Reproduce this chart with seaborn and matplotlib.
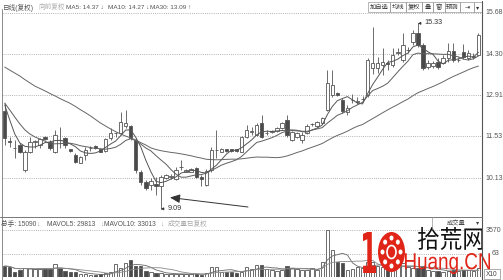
import numpy as np
import pandas as pd
import matplotlib
matplotlib.use("Agg")
import matplotlib.pyplot as plt
import seaborn as sns
from matplotlib.patches import Rectangle, Ellipse, PathPatch
from matplotlib.lines import Line2D
from matplotlib.transforms import Affine2D
from matplotlib.textpath import TextPath
from matplotlib.font_manager import FontProperties

# ---------------- data ----------------
opens = [12.39, 11.36, 11.15, 11.24, 10.40, 11.01, 11.35, 11.24, 11.51, 11.35,
         11.01, 11.41, 11.47, 11.10, 10.90, 10.65, 10.90, 11.13, 11.21, 11.10,
         11.05, 11.47, 11.63, 11.63, 11.88, 11.88, 11.41, 10.34, 10.01, 9.90,
         9.93, 9.86, 10.12, 10.17, 10.09, 10.49, 10.34, 10.34, 10.46, 10.17,
         9.90, 10.40, 11.07, 11.01, 11.10, 11.10, 11.10, 11.01, 11.52, 11.69,
         11.58, 11.97, 11.63, 11.69, 11.72, 11.80, 12.08, 11.41, 11.51, 11.41,
         11.65, 11.93, 11.88, 11.99, 12.42, 12.92, 13.00, 12.75, 12.36, 12.75,
         12.70, 12.78, 12.92, 13.82, 13.82, 13.93, 14.01, 13.93, 14.32, 14.10,
         14.44, 14.71, 15.00, 14.60, 13.87, 13.90, 14.04, 14.01, 14.16, 14.41,
         14.10, 14.36, 14.16, 14.21, 14.27]
highs = [12.65, 11.52, 11.41, 11.31, 11.07, 11.52, 11.41, 11.47, 11.53, 11.41,
         11.75, 11.86, 11.51, 11.12, 10.97, 10.87, 11.18, 11.21, 11.24, 11.12,
         11.47, 11.80, 11.69, 12.36, 12.42, 11.91, 11.47, 10.40, 10.06, 10.13,
         10.17, 10.23, 10.26, 10.26, 10.50, 10.74, 10.42, 10.46, 10.51, 10.23,
         10.43, 11.18, 11.75, 11.13, 11.12, 11.12, 11.12, 11.55, 11.91, 11.86,
         11.97, 12.25, 11.75, 11.75, 11.83, 12.00, 12.25, 11.72, 11.68, 11.68,
         11.95, 11.99, 12.05, 12.17, 13.76, 13.76, 13.03, 12.82, 12.59, 12.95,
         12.85, 12.88, 14.16, 15.21, 14.21, 14.50, 14.10, 14.50, 14.50, 15.00,
         14.55, 15.11, 15.33, 14.67, 14.10, 14.07, 14.16, 14.27, 14.67, 14.67,
         14.20, 14.64, 14.44, 14.33, 15.00]
lows = [11.24, 11.18, 10.80, 10.97, 10.34, 10.97, 11.13, 11.13, 11.42, 11.07,
        10.97, 11.13, 11.13, 11.02, 10.65, 10.63, 10.74, 11.04, 11.10, 10.99,
        11.01, 11.41, 11.52, 11.58, 11.80, 11.41, 10.29, 9.90, 9.73, 9.73,
        9.56, 9.09, 10.10, 10.10, 10.06, 10.40, 10.32, 10.32, 10.12, 9.86,
        9.86, 10.34, 10.80, 11.00, 11.02, 11.02, 11.02, 10.99, 11.47, 11.58,
        11.55, 11.47, 11.58, 11.63, 11.69, 11.77, 11.52, 11.38, 11.47, 11.30,
        11.60, 11.88, 11.85, 11.96, 12.39, 12.87, 12.90, 12.32, 12.25, 12.65,
        12.62, 12.68, 12.85, 13.62, 13.65, 13.59, 13.76, 13.87, 14.27, 14.03,
        14.32, 14.60, 14.55, 13.76, 13.80, 13.84, 13.80, 13.97, 14.04, 14.04,
        14.03, 14.13, 14.10, 14.13, 14.27]
closes = [11.47, 11.35, 11.14, 11.01, 11.01, 11.35, 11.36, 11.44, 11.44, 11.13,
          11.58, 11.40, 11.24, 11.04, 10.68, 10.85, 11.07, 11.14, 11.13, 11.01,
          11.43, 11.65, 11.64, 12.02, 11.97, 11.47, 10.40, 10.01, 9.79, 10.04,
          9.86, 10.17, 10.23, 10.18, 10.40, 10.50, 10.40, 10.43, 10.17, 10.09,
          10.38, 11.07, 11.08, 11.10, 11.04, 11.04, 11.04, 11.52, 11.75, 11.70,
          11.91, 11.52, 11.64, 11.70, 11.80, 11.97, 11.58, 11.69, 11.64, 11.58,
          11.88, 11.94, 12.02, 12.14, 13.31, 13.26, 12.92, 12.38, 12.47, 12.76,
          12.71, 12.79, 14.10, 14.00, 14.01, 14.04, 13.95, 14.27, 14.38, 14.60,
          14.45, 15.00, 14.60, 13.82, 13.99, 14.01, 13.87, 14.16, 14.41, 14.10,
          14.11, 14.21, 14.32, 14.22, 14.94]
volumes = [836, 760, 380, 532, 684, 684, 608, 608, 608, 608,
           988, 684, 418, 380, 342, 228, 228, 152, 152, 190,
           266, 380, 950, 684, 1064, 1292, 798, 798, 418, 380,
           304, 266, 228, 228, 228, 228, 228, 205, 228, 152,
           304, 783, 783, 403, 403, 403, 327, 403, 783, 585,
           912, 912, 585, 532, 479, 532, 836, 661, 585, 532,
           532, 661, 532, 1163, 3570, 2052, 1163, 1041, 532, 585,
           783, 661, 1140, 1140, 836, 783, 661, 661, 783, 1041,
           783, 661, 661, 836, 532, 456, 456, 403, 456, 532,
           456, 532, 532, 456, 661]
# moving-average values at the left edge (their history lies off-chart)
ma5_head = [12.59, 12.08, 11.61, 11.31]
ma10_head = [12.65, 12.42, 12.18, 11.95, 11.75, 11.61, 11.51, 11.44, 11.37]
ma30_head = [13.86, 13.76, 13.66, 13.56, 13.44, 13.33, 13.22, 13.14, 13.06, 12.97,
             12.89, 12.80, 12.72, 12.64, 12.54, 12.43, 12.33, 12.22, 12.10, 11.98,
             11.88, 11.78, 11.69, 11.61, 11.54, 11.48, 11.41, 11.32, 11.24]
price_ticks = [15.68, 14.30, 12.91, 11.53, 10.13]
price_tick_labels = ["15.68", "14.30", "12.91", "11.53", "10.13"]
vol_ticks = [3570, 1785]
vol_tick_labels = ["3570", "63"]
header_items = ["MA5: 14.37 ↓", "MA10: 14.27 ↓", "MA30: 13.09 ↑"]
vol_header_items = ["总手: 15090", "MAVOL5: 29813", "MAVOL10: 33013"]
buttons = ["加自选", "均线", "复权", "叠", "窗", "预测", "⇥", "▾"]

# ---------------- figure set-up ----------------
sns.set_theme(style="white")
plt.rcParams["font.family"] = ["Liberation Sans", "Noto Sans CJK SC", "DejaVu Sans"]

W, H = 503, 280
fig = plt.figure(figsize=(W / 100, H / 100), dpi=100)
fig.patch.set_facecolor("white")
T = Affine2D().scale(1 / W, -1 / H).translate(0, 1) + fig.transFigure  # pixel coords

PX0, PX1 = 3, 483
TOP, SEP, VBOT = 13, 217, 277
K = (15.68 - 10.13) / 165.0          # price per pixel
STEP, X0 = 5.04, 4.7                 # candle spacing / first candle (px)

def add_ax(yt, yb):
    a = fig.add_axes([PX0 / W, 1 - yb / H, (PX1 - PX0) / W, (yb - yt) / H])
    a.set_axis_off()
    return a

ax = add_ax(TOP, SEP)
axv = add_ax(SEP, VBOT)
xlim = ((PX0 - X0) / STEP, (PX1 - X0) / STEP)

n = len(closes)
idx = np.arange(n)
o = np.array(opens); c = np.array(closes); hi = np.array(highs); lo = np.array(lows)
up = c >= o
dark = "#4a4a4a"
edge = "#555555"

# grid lines
ax.hlines(price_ticks, xlim[0], xlim[1], colors="#9a9a9a", linestyles=(0, (1, 1.6)),
          lw=0.6, clip_on=False, zorder=0)
# wicks + bodies
ax.vlines(idx, lo, hi, color=edge, lw=0.6, zorder=2)
bottoms = np.minimum(o, c)
heights = np.maximum(np.abs(c - o), 0.012)
ax.bar(idx, heights, bottom=bottoms, width=0.68,
       color=np.where(up, "white", dark), edgecolor=edge, linewidth=0.6, zorder=3)

# moving averages
s = pd.Series(c)
ma5 = s.rolling(5).mean().to_numpy(); ma5[:4] = ma5_head
ma10 = s.rolling(10).mean().to_numpy(); ma10[:9] = ma10_head
ma30 = s.rolling(30).mean().to_numpy(); ma30[:29] = ma30_head
for m, col in [(ma5, "#555555"), (ma10, "#5e5e5e"), (ma30, "#666666")]:
    sns.lineplot(x=idx, y=m, ax=ax, color=col, linewidth=0.7, zorder=4)
ax.set_xlim(*xlim)
ax.set_ylim(15.68 - (SEP - TOP) * K, 15.68)
ax.set_axis_off()

# annotations for extreme prices
hi_i = int(np.argmax(hi)); lo_i = int(np.argmin(lo))
ap = dict(arrowstyle="-|>,head_length=0.3,head_width=0.15", color="#333", lw=0.5,
          shrinkA=0, shrinkB=0)
ax.annotate(f"{hi[hi_i]:.2f}", xy=(hi_i, hi[hi_i]), xytext=(4.5, 0.3),
            textcoords="offset points", ha="left", va="center", fontsize=5.2,
            color="#333", arrowprops=ap, annotation_clip=False)
ax.annotate(f"{lo[lo_i]:.2f}", xy=(lo_i, lo[lo_i]), xytext=(4.5, 0.3),
            textcoords="offset points", ha="left", va="center", fontsize=5.2,
            color="#333", arrowprops=ap, annotation_clip=False)
# the long pointing arrow
ax.annotate("", xy=((170 - X0) / STEP, 15.68 - (197.5 - TOP) * K),
            xytext=((248 - X0) / STEP, 15.68 - (207 - TOP) * K),
            arrowprops=dict(arrowstyle="-|>,head_length=0.5,head_width=0.22",
                            color="#333", lw=0.7, shrinkA=0, shrinkB=0))

# ---------------- volume panel ----------------
vpp = 3570 / (VBOT - 230)  # volume per pixel
axv.hlines(vol_ticks, xlim[0], xlim[1], colors="#9a9a9a", linestyles=(0, (1, 1.6)),
           lw=0.6, zorder=0)
vdf = pd.DataFrame({"i": idx, "vol": volumes, "dir": np.where(up, "up", "down")})
sns.barplot(data=vdf, x="i", y="vol", hue="dir", palette={"up": "white", "down": dark},
            native_scale=True, width=0.68, dodge=False, errorbar=None, legend=False,
            edgecolor=edge, linewidth=0.6, ax=axv, zorder=2)
vs = pd.Series(volumes, dtype=float)
sns.lineplot(x=idx, y=vs.rolling(5, min_periods=1).mean().to_numpy(), ax=axv,
             color="#666", linewidth=0.6, zorder=3)
sns.lineplot(x=idx, y=vs.rolling(10, min_periods=1).mean().to_numpy(), ax=axv,
             color="#888", linewidth=0.6, zorder=3)
axv.set_xlim(*xlim)
axv.set_ylim(0, (VBOT - SEP) * vpp)
axv.set_axis_off()

# ---------------- frame lines ----------------
def pline(x0, y0, x1, y1, col="#777", lw=0.7, **kw):
    fig.add_artist(Line2D([x0, x1], [y0, y1], transform=T, color=col, lw=lw, **kw))

pline(2.5, 9, 2.5, 280, "#8a8a8a", 0.7)
pline(482.5, 1, 482.5, 280, "#555", 0.8)
pline(0, 216.8, 482.5, 216.8, "#777", 0.7)
pline(432, 216.8, 432, 229, "#999", 0.5)

# ---------------- texts ----------------
def ptext(x, y, s, size=4.8, col="#444", ha="left", va="center", **kw):
    fig.text(x, y, s, transform=T, fontsize=size, color=col, ha=ha, va=va, **kw)

ptext(3, 7.5, "日线(复权)", col="#555")
ptext(38, 7.5, "向前复权", col="#b0b0b0")
for t, x1 in zip(header_items, [66, 108, 150]):
    ptext(x1, 7.5, t, size=4.6, col="#555")

# buttons
bx = [368, 390, 406, 422, 433, 445, 460, 474, 482]
for i, b in enumerate(buttons):
    fig.add_artist(Rectangle((bx[i], 2), bx[i + 1] - bx[i], 10, transform=T,
                             fill=False, ec="#999", lw=0.5))
    ptext((bx[i] + bx[i + 1]) / 2, 7.2, b, size=4.5, col="#333", ha="center")

# price tick labels
for p, lab in zip(price_ticks, price_tick_labels):
    ptext(485, TOP + (15.68 - p) / K, lab, size=5, col="#555")

# volume header
for t, x in zip(vol_header_items, [1, 47, 104]):
    ptext(x, 224, t, col="#555")
for x in [36, 100, 160]:
    ptext(x, 224, "↓", col="#999")
ptext(168, 224, "成交量已复权", col="#aaa")
ptext(447, 223, "成交量", size=4.5, col="#444")
ptext(478, 223, "▾", size=4.5, col="#444", ha="center")

for v, lab in zip(vol_ticks, vol_tick_labels):
    ptext(500 if lab != "3570" else 486, VBOT - v / vpp, lab, size=5, col="#555",
          ha="right" if lab != "3570" else "left")
fig.add_artist(Rectangle((484, 269), 16, 10, transform=T, fill=False, ec="#888", lw=0.5))
ptext(492, 274, "X10", size=4.8, col="#444", ha="center")

# ---------------- watermark ----------------
def fit_text(s, x0, y0, x1, y1, color, prop):
    tp = TextPath((0, 0), s, size=10, prop=prop)
    bb = tp.get_extents()
    tr = (Affine2D().translate(-bb.x0, -bb.y0)
          .scale((x1 - x0) / bb.width, -(y1 - y0) / bb.height)
          .translate(x0, y1) + T)
    fig.add_artist(PathPatch(tp, transform=tr, fc=color, ec="none", lw=0))

red = "#e02418"
fit_text("1", 363, 232, 376, 273, red, FontProperties(family="DejaVu Sans", weight="bold"))
fig.add_artist(Ellipse((391.5, 252), 27, 40, transform=T, fc=red, ec="none"))
for a in np.linspace(0, 2 * np.pi, 8, endpoint=False):
    fig.add_artist(Ellipse((391.5 + 9 * np.cos(a), 252 + 14 * np.sin(a)), 4, 5,
                           transform=T, fc="white", ec="none"))
fig.add_artist(Ellipse((391.5, 252), 9, 13, transform=T, fc=red, ec="white", lw=1.2))
fit_text("拾荒网", 418, 227, 483, 250, "#111", FontProperties(family="Noto Sans CJK SC"))
fit_text("Huang.CN", 405, 253, 490, 274, red, FontProperties(family="Liberation Sans"))

fig.savefig("out.png", dpi=100, facecolor="white")
